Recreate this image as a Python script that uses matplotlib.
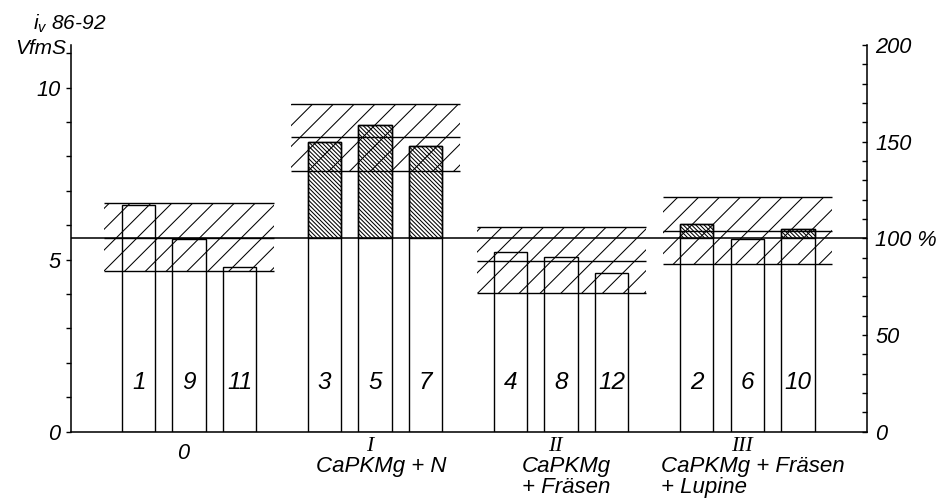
import numpy as np
import matplotlib
matplotlib.use('Agg')
import matplotlib.pyplot as plt
from matplotlib.ticker import MultipleLocator, FixedLocator, FixedFormatter

# data
groups = ['0', 'I', 'II', 'III']
group_names = ['', 'CaPKMg + N', 'CaPKMg\n+ Fräsen', 'CaPKMg + Fräsen\n+ Lupine']
plot_ids = [[1, 9, 11], [3, 5, 7], [4, 8, 12], [2, 6, 10]]
yields = [[6.59, 5.59, 4.78],
          [8.41, 8.92, 8.31],
          [5.23, 5.07, 4.62],
          [6.03, 5.60, 5.89]]
band_low = [4.67, 7.59, 4.02, 4.87]
band_mean = [5.62, 8.56, 4.97, 5.84]
band_high = [6.64, 9.53, 5.96, 6.83]
ref_value = 5.62          # control mean = 100 %
left_ticks = [0, 5, 10]
pct_ticks = [0, 50, 100, 150, 200]
pct_labels = ['0', '50', '100 %', '150', '200']

plt.rcParams['font.family'] = ['Liberation Sans', 'DejaVu Sans']
plt.rcParams['font.style'] = 'italic'
plt.rcParams['mathtext.fontset'] = 'custom'
plt.rcParams['mathtext.it'] = 'Liberation Sans:italic'
plt.rcParams['mathtext.rm'] = 'Liberation Sans:italic'
plt.rcParams['hatch.linewidth'] = 0.6

W, H, DPI = 939, 500, 125
fig = plt.figure(figsize=(W / DPI, H / DPI), dpi=DPI)
ax = fig.add_axes([71 / W, 1 - 431.7 / H, (866.7 - 71) / W, (431.7 - 45) / H])

gx = np.arange(len(groups))
offs = np.array([-0.2715, 0.0, 0.2715])
bw = 0.18
band_half = 0.455
ytop = 11.24

for g in range(len(groups)):
    xs = gx[g] + offs
    vals = np.array(yields[g])
    ax.bar(xs, vals, bw, color='white', edgecolor='black', linewidth=0.8, zorder=2)
    if g > 0:
        up = vals > ref_value
        ax.bar(xs[up], vals[up] - ref_value, bw, bottom=ref_value, fill=False,
               hatch='\\' * 10, edgecolor='black', linewidth=0.8, zorder=3)
    # LSD band
    ax.bar(gx[g], band_high[g] - band_low[g], 2 * band_half, bottom=band_low[g],
           fill=False, hatch='//', edgecolor='black', linewidth=0, zorder=4)
    ax.hlines([band_low[g], band_mean[g], band_high[g]], gx[g] - band_half,
              gx[g] + band_half, color='black', linewidth=0.8, zorder=5)
    for x, pid in zip(xs, plot_ids[g]):
        ax.text(x, 1.42, str(pid), ha='center', va='center', fontsize=14, zorder=6)
    ax.text(gx[g] - 0.03, -0.42 if g > 0 else -0.62, groups[g], ha='center', va='center',
            fontsize=12.5, family=['Liberation Serif'] if g > 0 else None, clip_on=False)
    if group_names[g]:
        ax.text(gx[g] + 0.03, -0.72, group_names[g], ha='center', va='top',
                multialignment='left', fontsize=12.8, linespacing=1.0, clip_on=False)

ax.axhline(ref_value, color='black', linewidth=0.9, zorder=5)

ax.set_xlim(-0.635, 3.642)
ax.set_ylim(0, ytop)
ax.set_xticks([])
ax.yaxis.set_major_locator(FixedLocator(left_ticks))
ax.yaxis.set_minor_locator(MultipleLocator(1))
ax.tick_params(axis='y', which='both', direction='out', length=3, width=0.8, labelsize=12.5, pad=3)
ax.spines['top'].set_visible(False)
ax.spines['right'].set_visible(False)
for s in ['left', 'bottom']:
    ax.spines[s].set_linewidth(0.9)

ax2 = ax.twinx()
ax2.set_ylim(0, ytop / ref_value * 100)
ax2.yaxis.set_major_locator(FixedLocator(pct_ticks))
ax2.yaxis.set_major_formatter(FixedFormatter(pct_labels))
ax2.yaxis.set_minor_locator(MultipleLocator(10))
ax2.tick_params(axis='y', which='both', direction='in', length=3, width=0.8, labelsize=12.5, pad=5)
for s in ['left', 'top', 'bottom']:
    ax2.spines[s].set_visible(False)
ax2.spines['right'].set_linewidth(0.9)

fig.text(33 / W, 1 - 30 / H, r'$i_{v}$ 86-92', fontsize=12, ha='left', va='baseline')
fig.text(66 / W, 1 - 48 / H, 'VfmS', fontsize=12, ha='right', va='center')

fig.savefig('out.png', dpi=DPI, facecolor='white')
